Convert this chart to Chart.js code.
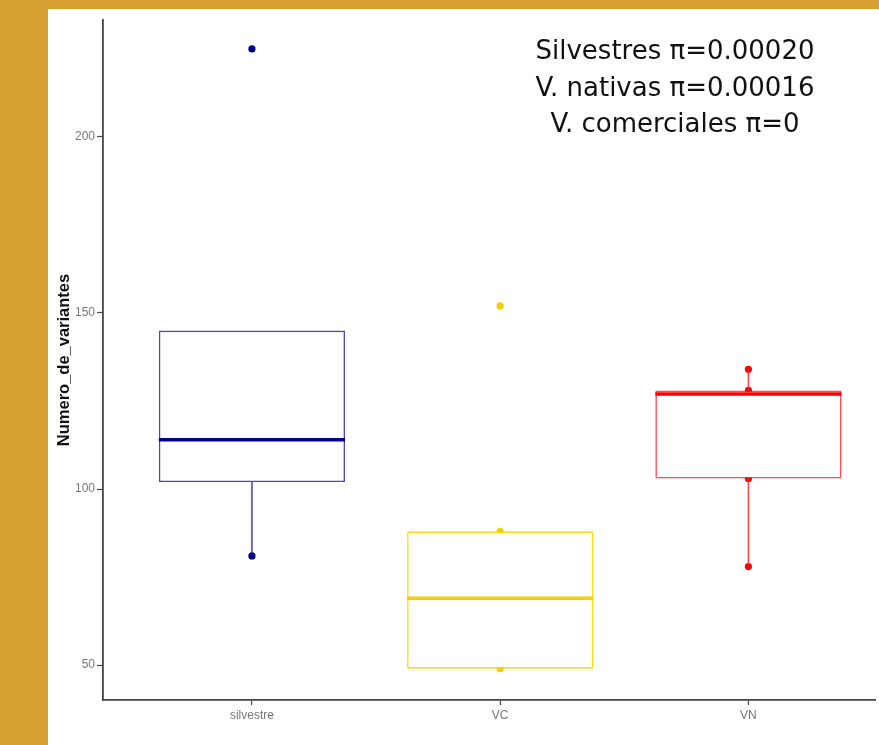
<!DOCTYPE html>
<html><head><meta charset="utf-8">
<script src="https://cdn.jsdelivr.net/npm/chart.js@4.4.1/dist/chart.umd.min.js"></script>
<style>
html,body{margin:0;padding:0;width:879px;height:745px;overflow:hidden;background:#D8A033;}
#panel{position:absolute;left:48px;top:9px;width:831px;height:736px;background:#fff;}
canvas{display:block;}
</style></head><body>
<div id="panel"><canvas id="c" width="831" height="736"></canvas></div>
<script>
const categories = ['silvestre', 'VC', 'VN'];
const q1Values = [102, 49, 103];
const medianValues = [114, 69, 127];
const q3Values = [145, 88, 128];
const whiskerLow = [81, 49, 78];
const whiskerHigh = [145, 88, 134];
const silvestrePoints = [81, 225];
const vcPoints = [49, 88, 152];
const vnPoints = [78, 103, 128, 134];
const yTicks = [50, 100, 150, 200];
const annotationLines = ['Silvestres π=0.00020', 'V. nativas π=0.00016', 'V. comerciales π=0'];

const groupPoints = [silvestrePoints, vcPoints, vnPoints];
const strongColors = ['#00008B', '#F5D000', '#FF0000'];
const outlineColors = ['rgba(30,30,160,0.8)', 'rgba(255,212,0,0.9)', 'rgba(255,30,40,0.8)'];
const HALF = 0.375;

const datasets = [];
datasets.push({
  type: 'bar',
  data: categories.map((c, i) => ({x: i, y: [q1Values[i], q3Values[i]]})),
  backgroundColor: '#ffffff',
  borderColor: outlineColors,
  borderWidth: 1.6,
  borderSkipped: false,
  barPercentage: 0.75,
  categoryPercentage: 1,
  grouped: false,
  order: 2
});
categories.forEach((c, i) => {
  datasets.push({
    type: 'line',
    data: groupPoints[i].map(v => ({x: i, y: v})),
    showLine: false,
    pointRadius: 3.6,
    pointBackgroundColor: strongColors[i],
    pointBorderWidth: 0,
    order: 3
  });
  datasets.push({
    type: 'line',
    data: [{x: i, y: whiskerLow[i]}, {x: i, y: q1Values[i]}, {x: i, y: null}, {x: i, y: q3Values[i]}, {x: i, y: whiskerHigh[i]}],
    borderColor: outlineColors[i],
    borderWidth: 1.6,
    pointRadius: 0,
    spanGaps: false,
    order: 1
  });
  datasets.push({
    type: 'line',
    data: [{x: i - HALF, y: medianValues[i]}, {x: i + HALF, y: medianValues[i]}],
    borderColor: strongColors[i],
    borderWidth: 3.5,
    pointRadius: 0,
    order: 0
  });
});

const annotationPlugin = {
  id: 'annot',
  afterDatasetsDraw(chart) {
    const {ctx, chartArea} = chart;
    ctx.save();
    ctx.font = '26px "DejaVu Sans"';
    ctx.fillStyle = '#111';
    ctx.textAlign = 'center';
    ctx.textBaseline = 'middle';
    const cx = chartArea.left + 572;
    const y0 = chartArea.top + 32.5;
    annotationLines.forEach((t, k) => ctx.fillText(t, cx, y0 + k * 36.5));
    ctx.restore();
  }
};

new Chart(document.getElementById('c'), {
  type: 'bar',
  data: {datasets},
  plugins: [annotationPlugin],
  options: {
    responsive: false,
    animation: false,
    devicePixelRatio: 1,
    layout: {padding: {top: 11, left: 0, right: 0, bottom: 0}},
    plugins: {legend: {display: false}, tooltip: {enabled: false}},
    scales: {
      x: {
        type: 'linear',
        min: -0.6,
        max: 2.51,
        offset: false,
        afterBuildTicks: s => { s.ticks = categories.map((c, i) => ({value: i})); },
        afterFit: s => { s.height = 45; },
        ticks: {
          callback: v => categories[v] ?? '',
          font: {family: 'Liberation Sans', size: 12},
          color: '#777',
          padding: 3,
          autoSkip: false,
          maxRotation: 0
        },
        grid: {display: true, offset: false, drawOnChartArea: false, drawTicks: true, tickLength: 5, color: '#444', tickWidth: 1.2},
        border: {display: true, color: '#444', width: 1.8}
      },
      y: {
        type: 'linear',
        min: 40.1,
        max: 233.2,
        afterBuildTicks: s => { s.ticks = yTicks.map(v => ({value: v})); },
        afterFit: s => { s.width = 55; },
        ticks: {font: {family: 'Liberation Sans', size: 12}, color: '#777', padding: 2},
        grid: {drawOnChartArea: false, drawTicks: true, tickLength: 6, color: '#444', tickWidth: 1.2},
        border: {display: true, color: '#444', width: 1.8},
        title: {
          display: true,
          text: 'Numero_de_variantes',
          font: {family: 'Liberation Sans', size: 16.5, weight: 'bold'},
          color: '#111',
          padding: {top: 7, bottom: 0}
        }
      }
    }
  }
});
</script>
</body></html>
